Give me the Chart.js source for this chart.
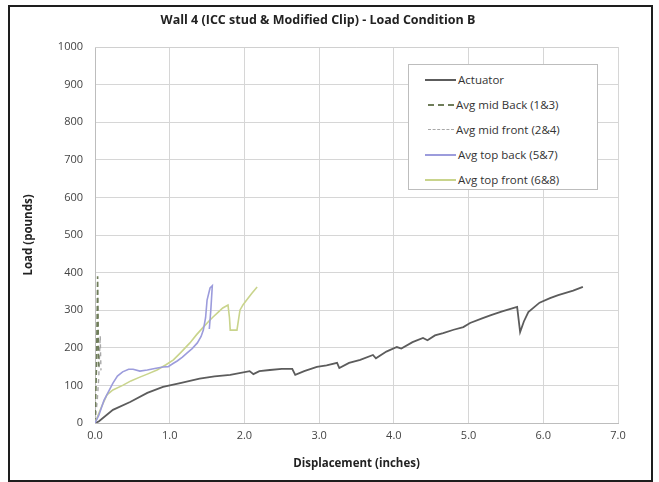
<!DOCTYPE html>
<html>
<head>
<meta charset="utf-8">
<script src="https://cdn.jsdelivr.net/npm/chart.js@4"></script>
<style>
  html,body{margin:0;padding:0;background:#fff;}
  #wrap{position:relative;width:659px;height:482px;}
  #frame{position:absolute;left:8px;top:5px;width:641px;height:473px;border:2px solid #1e1e1e;pointer-events:none;}
  #legend{position:absolute;left:408px;top:64px;width:188px;height:124px;border:1px solid #bdbdbd;background:#fff;font-family:"Open Sans",sans-serif;font-size:11.5px;color:#333;}
  .row{position:absolute;left:16px;height:16px;line-height:16px;white-space:nowrap;}
  .sw{display:inline-block;vertical-align:middle;width:31px;height:0;margin-right:2px;}
  .row span{vertical-align:middle;}
</style>
</head>
<body>
<div id="wrap">
  <canvas id="c" width="659" height="482"></canvas>
  <div id="frame"></div>
  <div id="legend"></div>
</div>
<script>
const chartTitle = "Wall 4 (ICC stud & Modified Clip) - Load Condition B";
const xTitle = "Displacement (inches)";
const yTitle = "Load (pounds)";
const seriesNames = ["Actuator","Avg mid Back (1&3)","Avg mid front (2&4)","Avg top back (5&7)","Avg top front (6&8)"];

const actuatorX = [0,0.05,0.24,0.47,0.70,0.91,1.14,1.40,1.60,1.81,2.07,2.12,2.20,2.34,2.50,2.64,2.68,2.80,2.97,3.10,3.24,3.27,3.40,3.55,3.72,3.76,3.90,4.04,4.10,4.25,4.39,4.45,4.55,4.66,4.80,4.93,5.02,5.19,5.30,5.45,5.55,5.65,5.69,5.74,5.80,5.95,6.09,6.20,6.30,6.40,6.53];
const actuatorY = [0,4,35,56,80,96,106,118,124,128,138,130,138,141,144,144,128,138,149,153,160,146,160,168,181,172,190,202,198,215,226,220,233,239,248,255,266,279,287,297,303,309,242,270,295,320,332,340,346,352,362];

const midBackX = [0,0.02,0.03,0.035,0.04,0.045,0.05];
const midBackY = [0,150,300,390,300,200,150];

const midFrontX = [0,0.03,0.05,0.06,0.07,0.075,0.08];
const midFrontY = [0,60,120,180,232,180,140];

const topBackX = [0,0.05,0.12,0.24,0.30,0.37,0.45,0.51,0.60,0.70,0.80,0.91,0.98,1.05,1.10,1.17,1.23,1.30,1.37,1.42,1.45,1.48,1.50,1.54,1.57,1.55,1.53];
const topBackY = [0,20,60,106,125,136,143,143,138,141,145,149,150,159,165,175,186,198,213,230,247,280,327,359,365,300,250];

const topFrontX = [0,0.08,0.16,0.24,0.37,0.48,0.60,0.70,0.83,0.95,1.05,1.15,1.27,1.36,1.45,1.52,1.58,1.65,1.71,1.78,1.80,1.81,1.90,1.94,1.98,2.03,2.10,2.17];
const topFrontY = [0,40,75,88,100,112,122,130,141,155,168,188,213,235,255,270,282,295,306,314,280,247,247,300,314,327,345,362];

const xTicks = [0,1,2,3,4,5,6,7];
const yTicks = [0,100,200,300,400,500,600,700,800,900,1000];

function pts(xs, ys){ return xs.map((x,i)=>({x:x,y:ys[i]})); }

const styles = [
  {color:"#5c5c5c", width:1.8, dash:[]},
  {color:"#6f7d5a", width:1.6, dash:[5,3]},
  {color:"#a8a8a8", width:1.4, dash:[4,4]},
  {color:"#9c9cdc", width:1.6, dash:[]},
  {color:"#c9d48c", width:1.6, dash:[]}
];
const dataX = [actuatorX, midBackX, midFrontX, topBackX, topFrontX];
const dataY = [actuatorY, midBackY, midFrontY, topBackY, topFrontY];

const datasets = seriesNames.map((n,i)=>({
  label:n,
  data:pts(dataX[i],dataY[i]),
  borderColor:styles[i].color,
  borderWidth:styles[i].width,
  borderDash:styles[i].dash,
  pointRadius:0,
  fill:false,
  tension:0
}));
const order = [3,4,1,2,0];
order.forEach((k,j)=>{ datasets[k].order = j; });

const fontFam = '"Open Sans", sans-serif';

new Chart(document.getElementById('c'), {
  type:'line',
  data:{datasets:datasets},
  options:{
    responsive:false,
    animation:false,
    layout:{padding:{left:18,right:41,top:0,bottom:11}},
    plugins:{
      legend:{display:false},
      tooltip:{enabled:false},
      title:{display:true,text:chartTitle,color:'#222',font:{family:fontFam,size:12.5,weight:'bold'},padding:{top:13,bottom:19}}
    },
    scales:{
      x:{
        type:'linear',min:0,max:7,
        afterBuildTicks:(s)=>{ s.ticks = xTicks.map(v=>({value:v})); },
        afterFit:(s)=>{ s.height = 48; },
        ticks:{color:'#444',font:{family:fontFam,size:11},padding:6,callback:(v)=>Number(v).toFixed(1)},
        grid:{color:'#d6d6d6',drawTicks:false},
        border:{color:'#bdbdbd'},
        title:{display:true,text:xTitle,color:'#222',font:{family:fontFam,size:11.5,weight:'bold'},padding:{top:4,bottom:0}}
      },
      y:{
        min:0,max:1000,
        afterBuildTicks:(s)=>{ s.ticks = yTicks.map(v=>({value:v})); },
        afterFit:(s)=>{ s.width = 77; },
        ticks:{color:'#444',font:{family:fontFam,size:11},padding:12,callback:(v)=>String(v)},
        grid:{color:'#d6d6d6',drawTicks:false},
        border:{color:'#bdbdbd'},
        title:{display:true,text:yTitle,color:'#222',font:{family:fontFam,size:11.5,weight:'bold'},padding:{top:4,bottom:6}}
      }
    }
  },
  plugins:[{
    id:'topBorder',
    afterDraw(chart){
      const a = chart.chartArea, ctx = chart.ctx;
      ctx.save(); ctx.strokeStyle='#d0d0d0'; ctx.lineWidth=1;
      ctx.beginPath(); ctx.moveTo(a.left, a.top+0.5); ctx.lineTo(a.right, a.top+0.5); ctx.stroke();
      ctx.restore();
    }
  }]
});

const leg = document.getElementById('legend');
seriesNames.forEach((n,i)=>{
  const r = document.createElement('div');
  r.className='row';
  r.style.top = (6 + i*25) + 'px';
  const sw = document.createElement('span');
  sw.className='sw';
  const st = styles[i];
  sw.style.borderTop = st.width.toFixed(0)+'px ' + (st.dash.length? 'dashed ':'solid ') + st.color;
  if(st.dash.length){ sw.style.width='26px'; sw.style.marginLeft='3px'; }
  const t = document.createElement('span');
  t.textContent = n;
  r.appendChild(sw); r.appendChild(t);
  leg.appendChild(r);
});
</script>
</body>
</html>
